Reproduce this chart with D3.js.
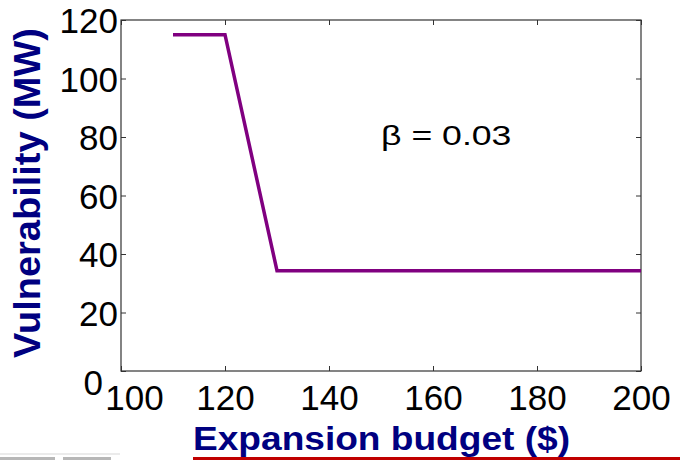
<!DOCTYPE html>
<html>
<head>
<meta charset="utf-8">
<script src="https://cdn.jsdelivr.net/npm/d3@7"></script>
<style>
  html, body { margin: 0; padding: 0; background: #fff; }
  svg { display: block; }
  text { font-family: "Liberation Sans", Arial, Helvetica, sans-serif; }
</style>
</head>
<body>
<svg id="chart" width="680" height="460"></svg>
<script>
// Vulnerability versus expansion budget
const budget = [110, 120, 130, 200];
const vulnerability = [115, 115, 34.3, 34.3];
const xTicks = [100, 120, 140, 160, 180, 200];
const yTicks = [0, 20, 40, 60, 80, 100, 120];
const xTitle = "Expansion budget ($)";
const yTitle = "Vulnerability (MW)";
const note = "β = 0.03";

const W = 680, H = 460;
const plot = { left: 121, right: 641, top: 20, bottom: 371 };

const svg = d3.select("#chart");

const x = d3.scaleLinear().domain([100, 200]).range([plot.left, plot.right]);
const y = d3.scaleLinear().domain([0, 120]).range([plot.bottom, plot.top]);

// frame
svg.append("rect")
  .attr("x", plot.left).attr("y", plot.top)
  .attr("width", plot.right - plot.left).attr("height", plot.bottom - plot.top)
  .attr("fill", "none").attr("stroke", "#333").attr("stroke-width", 1.2);

const tickLen = 5;

function styleAxis(g) {
  g.select(".domain").remove();
  g.selectAll(".tick line").attr("stroke", "#333").attr("stroke-width", 1);
}

// bottom axis with labels
const gx = svg.append("g")
  .attr("transform", `translate(0,${plot.bottom})`)
  .call(d3.axisBottom(x).tickValues(xTicks).tickSizeInner(-tickLen).tickSizeOuter(0).tickFormat(d3.format("d")));
styleAxis(gx);
gx.selectAll(".tick text")
  .attr("font-size", 35).attr("fill", "#000")
  .attr("font-family", "Liberation Sans, Arial, sans-serif")
  .attr("y", 39).attr("dy", 0)
  .attr("dx", d => d === 100 ? 13 : 0);

// top axis, ticks only
const gxt = svg.append("g")
  .attr("transform", `translate(0,${plot.top})`)
  .call(d3.axisTop(x).tickValues(xTicks).tickSizeInner(-tickLen).tickSizeOuter(0).tickFormat(""));
styleAxis(gxt);

// left axis with labels
const gy = svg.append("g")
  .attr("transform", `translate(${plot.left},0)`)
  .call(d3.axisLeft(y).tickValues(yTicks).tickSizeInner(-tickLen).tickSizeOuter(0).tickFormat(d3.format("d")));
styleAxis(gy);
gy.selectAll(".tick text")
  .attr("font-size", 35).attr("fill", "#000")
  .attr("font-family", "Liberation Sans, Arial, sans-serif")
  .attr("text-anchor", "end")
  .attr("x", d => d === 0 ? -18 : -3)
  .attr("dy", 0)
  .attr("y", d => d === 0 ? 23 : 12.5);

// right axis, ticks only
const gyr = svg.append("g")
  .attr("transform", `translate(${plot.right},0)`)
  .call(d3.axisRight(y).tickValues(yTicks).tickSizeInner(-tickLen).tickSizeOuter(0).tickFormat(""));
styleAxis(gyr);

// the curve
const pts = budget.map((b, i) => [b, vulnerability[i]]);
svg.append("path")
  .datum(pts)
  .attr("fill", "none")
  .attr("stroke", "#800080")
  .attr("stroke-width", 3.5)
  .attr("stroke-linejoin", "miter")
  .attr("d", d3.line().x(d => x(d[0])).y(d => y(d[1])));

// annotation (set wide)
svg.append("text")
  .attr("transform", "translate(381,145) scale(1.25,1)")
  .attr("font-size", 28.5).attr("fill", "#000")
  .text(note);

// axis titles
svg.append("text")
  .attr("transform", "translate(40,193) rotate(-90)")
  .attr("text-anchor", "middle")
  .attr("font-size", 37).attr("font-weight", "bold").attr("fill", "#000080")
  .attr("textLength", 330).attr("lengthAdjust", "spacingAndGlyphs")
  .text(yTitle);

svg.append("text")
  .attr("x", 193).attr("y", 450)
  .attr("font-size", 33).attr("font-weight", "bold").attr("fill", "#000080")
  .attr("textLength", 377).attr("lengthAdjust", "spacingAndGlyphs")
  .text(xTitle);

// underline rule beneath the x title
svg.append("rect")
  .attr("x", 193).attr("y", 457).attr("width", W - 193).attr("height", 3)
  .attr("fill", "#c00000");

// faint grey rule at the lower left
svg.append("rect").attr("x", 0).attr("y", 457).attr("width", 55).attr("height", 3).attr("fill", "#999").attr("opacity", 0.7);
svg.append("rect").attr("x", 63).attr("y", 457).attr("width", 48).attr("height", 3).attr("fill", "#999").attr("opacity", 0.7);
svg.append("rect").attr("x", 0).attr("y", 453).attr("width", 120).attr("height", 2).attr("fill", "#ddd").attr("opacity", 0.6);
</script>
</body>
</html>
